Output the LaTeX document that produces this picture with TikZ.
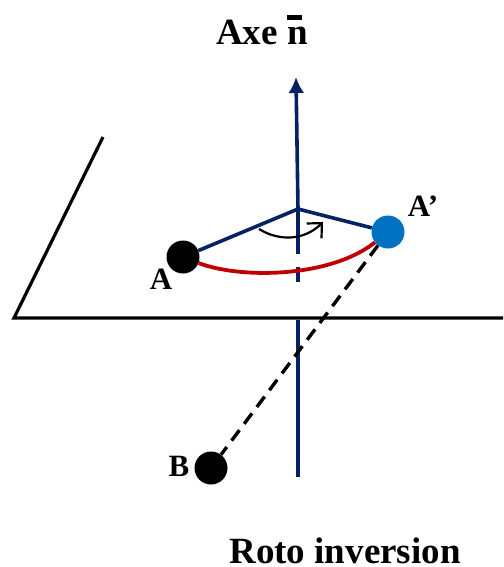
\documentclass[tikz,border=0pt]{standalone}
\usepackage{fontspec}
\setmainfont{Liberation Serif}
\usepackage{tikz}
\usetikzlibrary{positioning,arrows.meta,calc}
\definecolor{axeblue}{RGB}{5,35,100}
\definecolor{arcred}{RGB}{192,0,0}
\definecolor{atomblue}{RGB}{0,112,192}
\tikzset{
  atom/.style={circle,fill=#1,inner sep=0pt,minimum size=33pt},
  lbl/.style={font=\bfseries\fontsize{31pt}{34pt}\selectfont,inner sep=0pt},
  title/.style={font=\bfseries\fontsize{37pt}{40pt}\selectfont,inner sep=0pt},
  axeline/.style={axeblue,line width=3.6pt},
}
\begin{document}
\begin{tikzpicture}[x=1pt,y=-1pt]
    \useasboundingbox (0,0) rectangle (503,567);
    \node[title] (axe) at (262,30) {Axe \rlap{\raisebox{25pt}{\rule{15pt}{5pt}}}n};
    \node[title] (roto) at (345,551) {Roto inversion};
    \coordinate (top) at (296,77);
    \coordinate (mid) at (298,209);
    \coordinate (low) at (298,477);
    \coordinate (hl) at (14,318);
    \coordinate (hr) at (503,318);
    \coordinate (pt) at (103,137);
    \coordinate (d1) at (298,254);
    \coordinate (d2) at (298,267);
    \coordinate (d3) at (298,282);
    \coordinate (d4) at (298,320);
    \draw[line width=3.2pt] (pt)--(hl)--(hr);
    \draw[axeline,-{Latex[length=16pt,width=16pt]}] (mid)--(top);
    \draw[axeline] (mid)--(d1) (d2)--(d3) (d4)--(low);
    \node[atom=black] (a) at (183,257) {};
    \node[atom=atomblue] (ap) at (388,232) {};
    \node[atom=black] (b) at (211,468) {};
    \node[lbl] (la) at (161,279) {A};
    \node[lbl] (lap) at (423,206) {A’};
    \node[lbl] (lb) at (179,466) {B};
    \draw[axeline] (a)--(mid)--(ap);
    \draw[arcred,line width=3.8pt] (a) .. controls (240,279) and (330,278) .. (ap);
    \draw[line width=3.4pt,dash pattern=on 13pt off 8pt] (ap)--(b);
    \draw[line width=2.2pt,-{Straight Barb[length=11pt,width=21pt]}] (259,229) .. controls (280,242) and (305,240) .. (323,222);
\end{tikzpicture}
\end{document}
